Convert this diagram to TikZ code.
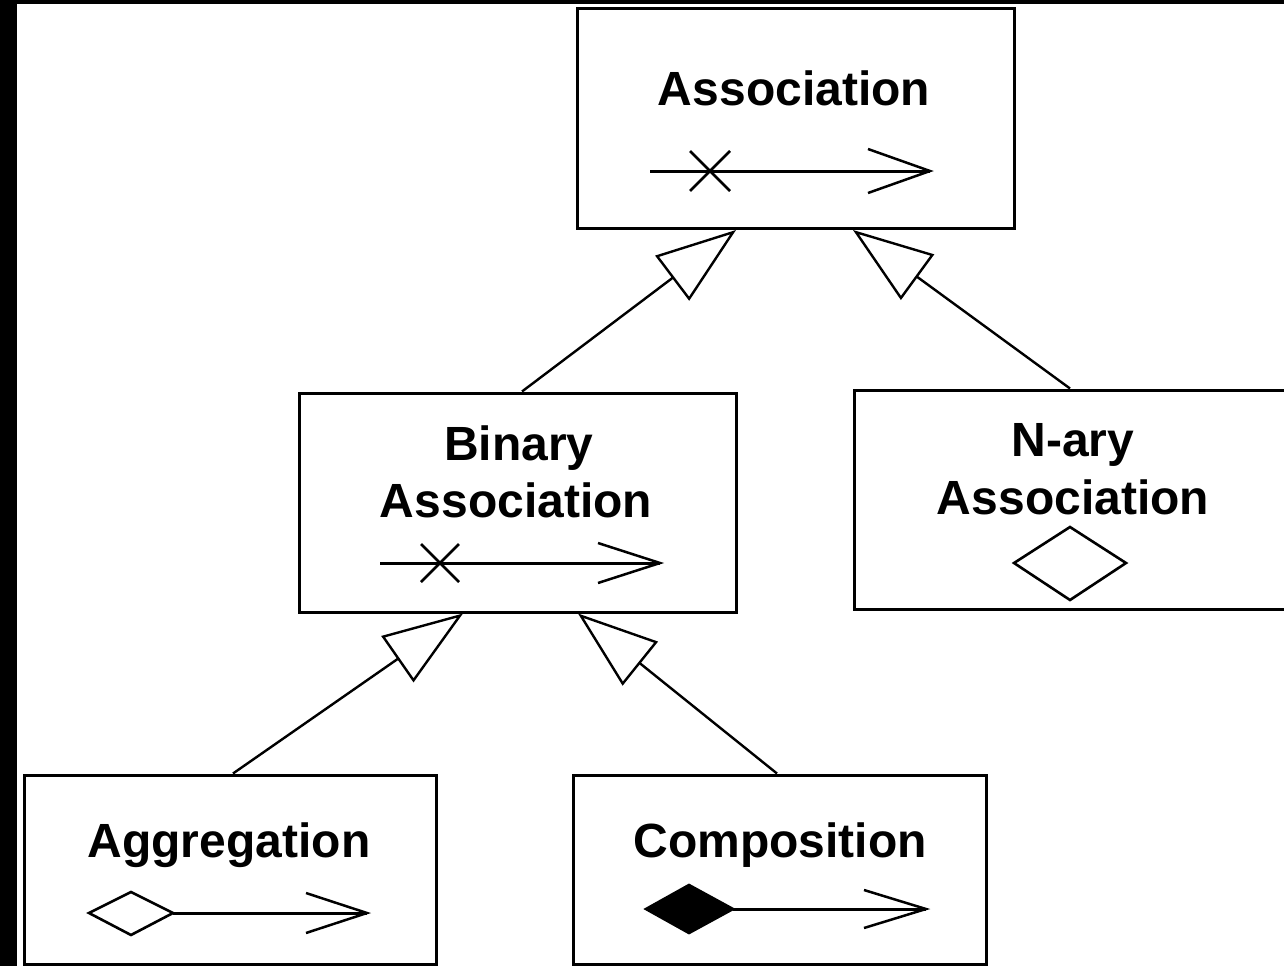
\documentclass[tikz,border=0pt]{standalone}
\usepackage{fontspec}
\setmainfont{Liberation Sans}
\usetikzlibrary{arrows.meta,calc}

\tikzset{
  classbox/.style={draw=black, line width=3pt, fill=white, inner sep=0pt,
                   minimum width=#1},
  classbox/.default=437pt,
  lbl/.style={anchor=base, inner sep=0pt,
              font=\fontsize{48}{57}\selectfont\bfseries},
  gen/.style={line width=2.4pt,
              -{Triangle[open, fill=white, length=80pt, width=56pt]}},
  symline/.style={line width=3pt},
  symhead/.style={line width=2.5pt, line join=miter},
  diam/.style={line width=2.6pt, line join=miter}
}

\begin{document}
\begin{tikzpicture}[x=1pt, y=-1pt]
  % frame: dark border strip on the left and top
  \fill[black] (0,0) rectangle (1284,966);
  \fill[white] (17,4) rectangle (1284,966);
  \clip (0,0) rectangle (1284,966);

  % class boxes
  \node[classbox, minimum height=220pt] (assoc) at (795.5,118.5) {};
  \node[classbox, minimum height=219pt] (bin)   at (517.5,502.5) {};
  \node[classbox, minimum height=219pt] (nary)  at (1073,499.5) {};
  \node[classbox=412pt, minimum height=189pt] (aggr) at (230,869.5) {};
  \node[classbox=413pt, minimum height=189pt] (comp) at (780,869.5) {};

  % class names
  \node[lbl] (assocT)  at (794,105) {Association};
  \node[lbl] (binT1)   at (519,460) {Binary};
  \node[lbl] (binT2)   at (516,517) {Association};
  \node[lbl] (naryT1)  at (1073,456) {N-ary};
  \node[lbl] (naryT2)  at (1073,514) {Association};
  \node[lbl] (aggrT)   at (229,857) {Aggregation};
  \node[lbl] (compT)   at (780,857) {Composition};

  % Association: navigable end with a cross
  \draw[symline] (650,171) -- (930,171);
  \draw[symhead] (690,151) -- (730,191) (690,191) -- (730,151);
  \draw[symhead] (868,149) -- (930,171) -- (868,193);

  % Binary Association: same notation
  \draw[symline] (380,563) -- (660,563);
  \draw[symhead] (421,544) -- (459,582) (421,582) -- (459,544);
  \draw[symhead] (598,543) -- (660,563) -- (598,583);

  % N-ary Association: hollow diamond
  \draw[diam, fill=white] (1014,563) -- (1070,527) -- (1126,563) -- (1070,600) -- cycle;

  % Aggregation: hollow diamond with open arrow
  \draw[symline] (173,913) -- (367,913);
  \draw[diam, fill=white] (89,913) -- (131,892) -- (173,913) -- (131,935) -- cycle;
  \draw[symhead] (306,893) -- (367,913) -- (306,933);

  % Composition: filled diamond with open arrow
  \draw[symline] (733,909) -- (926,909);
  \draw[diam, fill=black] (646,909) -- (689,885) -- (733,909) -- (689,933) -- cycle;
  \draw[symhead] (864,890) -- (926,909) -- (864,928);

  % generalisation connectors
  \draw[gen] ($(bin.north)+(4.5,0)$)   -- ($(assoc.south)+(-59.5,0)$);
  \draw[gen] ($(nary.north)+(-3,0)$)   -- ($(assoc.south)+(57.5,0)$);
  \draw[gen] ($(aggr.north)+(3,0)$)    -- ($(bin.south)+(-54.5,0)$);
  \draw[gen] ($(comp.north)+(-3,0)$)   -- ($(bin.south)+(60.5,0)$);
\end{tikzpicture}
\end{document}
